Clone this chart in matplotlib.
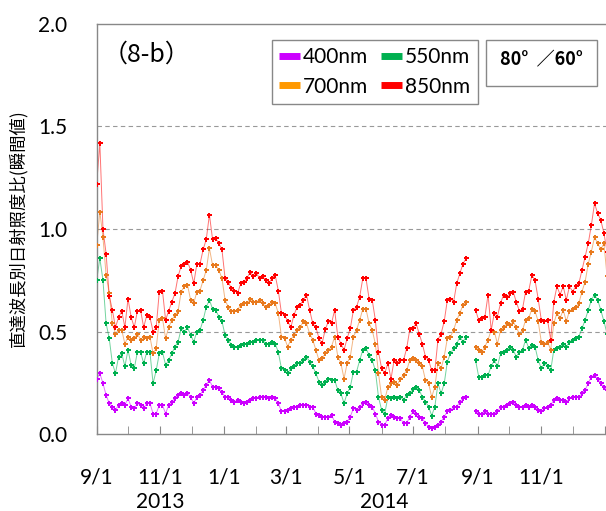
import numpy as np
import pandas as pd
import matplotlib
matplotlib.use('Agg')
import matplotlib.pyplot as plt
import matplotlib.dates as mdates
from matplotlib.lines import Line2D
from matplotlib.patches import Rectangle
from matplotlib.ticker import FuncFormatter
from matplotlib.transforms import blended_transform_factory

nan = np.nan

# samples every 3 days from 2013-09-01 (gap in late Aug 2014)
start = '2013-09-01'
w850 = [1.22, 1.42, 1.00, 0.88, 0.675, 0.605, 0.52, 0.57, 0.60, 0.52, 0.66, 0.57, 0.52, 0.60, 0.605, 0.52, 0.58, 0.57, 0.50, 0.52, 0.695, 0.70, 0.556, 0.60, 0.645, 0.686, 0.77, 0.82,
        0.83, 0.84, 0.80, 0.735, 0.83, 0.83, 0.90, 0.95, 1.07, 0.95, 0.955, 0.93, 0.90, 0.76, 0.743, 0.71, 0.70, 0.686, 0.735, 0.743, 0.76, 0.79, 0.77, 0.784, 0.76, 0.77, 0.75,
        0.735, 0.76, 0.775, 0.70, 0.59, 0.58, 0.55, 0.52, 0.58, 0.62, 0.63, 0.654, 0.68, 0.605, 0.54, 0.52, 0.467, 0.443, 0.51, 0.55, 0.54, 0.605, 0.475, 0.44, 0.41, 0.467, 0.515, 0.605,
        0.62, 0.67, 0.76, 0.76, 0.66, 0.654, 0.556, 0.40, 0.32, 0.296, 0.345, 0.27, 0.36, 0.345, 0.36, 0.36, 0.418, 0.51, 0.515, 0.54, 0.49, 0.44, 0.378, 0.36, 0.31, 0.31, 0.46,
        0.49, 0.55, 0.654, 0.66, 0.645, 0.735, 0.784, 0.83, 0.857, nan, nan, 0.605, 0.556, 0.565, 0.573, 0.68, 0.507, 0.59, 0.573, 0.64, 0.68, 0.67, 0.686, 0.695, 0.645, 0.60, 0.61, 0.695,
        0.70, 0.775, 0.75, 0.66, 0.556, 0.55, 0.556, 0.46, 0.645, 0.72, 0.68, 0.72, 0.654, 0.72, 0.695, 0.72, 0.735, 0.80, 0.865, 0.93, 1.02, 1.125, 1.076, 1.044, 0.98, 0.89]
w700 = [0.92, 1.085, 0.96, 0.776, 0.686, 0.54, 0.49, 0.507, 0.507, 0.44, 0.475, 0.46, 0.467, 0.49, 0.46, 0.475, 0.467, 0.475, 0.393, 0.418, 0.556, 0.565, 0.467, 0.52, 0.556, 0.58, 0.60, 0.695,
        0.72, 0.727, 0.654, 0.638, 0.695, 0.70, 0.75, 0.80, 0.906, 0.824, 0.824, 0.80, 0.76, 0.654, 0.62, 0.60, 0.60, 0.605, 0.63, 0.638, 0.638, 0.66, 0.645, 0.645, 0.654, 0.638, 0.62,
        0.63, 0.645, 0.638, 0.59, 0.475, 0.467, 0.426, 0.46, 0.483, 0.507, 0.52, 0.55, 0.54, 0.49, 0.46, 0.41, 0.36, 0.37, 0.393, 0.41, 0.426, 0.475, 0.378, 0.345, 0.27, 0.345, 0.378, 0.475,
        0.507, 0.556, 0.61, 0.61, 0.54, 0.507, 0.44, 0.296, 0.18, 0.166, 0.23, 0.247, 0.255, 0.24, 0.27, 0.288, 0.31, 0.36, 0.37, 0.36, 0.345, 0.33, 0.263, 0.247, 0.18, 0.23, 0.345,
        0.32, 0.378, 0.467, 0.475, 0.507, 0.556, 0.59, 0.63, 0.645, nan, nan, 0.426, 0.41, 0.40, 0.426, 0.46, 0.507, 0.50, 0.44, 0.507, 0.52, 0.54, 0.53, 0.55, 0.52, 0.49, 0.507, 0.556,
        0.565, 0.61, 0.60, 0.55, 0.45, 0.44, 0.45, 0.41, 0.54, 0.59, 0.565, 0.605, 0.55, 0.60, 0.61, 0.62, 0.638, 0.695, 0.743, 0.83, 0.89, 0.96, 0.93, 0.90, 0.93, 0.77]
w550 = [0.75, 0.857, 0.75, 0.54, 0.467, 0.345, 0.296, 0.378, 0.393, 0.33, 0.41, 0.337, 0.32, 0.40, 0.40, 0.345, 0.40, 0.40, 0.247, 0.31, 0.393, 0.40, 0.337, 0.36, 0.393, 0.426, 0.45, 0.515,
        0.50, 0.52, 0.483, 0.45, 0.50, 0.507, 0.556, 0.62, 0.654, 0.61, 0.605, 0.573, 0.55, 0.483, 0.46, 0.435, 0.426, 0.426, 0.435, 0.44, 0.44, 0.45, 0.45, 0.46, 0.46, 0.46, 0.44,
        0.44, 0.45, 0.44, 0.40, 0.32, 0.31, 0.296, 0.32, 0.33, 0.345, 0.345, 0.36, 0.378, 0.353, 0.33, 0.296, 0.255, 0.24, 0.255, 0.27, 0.263, 0.263, 0.215, 0.198, 0.15, 0.198, 0.23, 0.304,
        0.304, 0.36, 0.41, 0.418, 0.385, 0.36, 0.31, 0.18, 0.117, 0.10, 0.18, 0.174, 0.18, 0.174, 0.18, 0.166, 0.19, 0.198, 0.22, 0.23, 0.215, 0.18, 0.158, 0.133, 0.09, 0.133, 0.247,
        0.198, 0.247, 0.353, 0.393, 0.418, 0.44, 0.475, 0.45, 0.475, nan, nan, 0.36, 0.28, 0.28, 0.288, 0.288, 0.33, 0.36, 0.33, 0.393, 0.40, 0.41, 0.426, 0.41, 0.378, 0.40, 0.41, 0.46,
        0.418, 0.435, 0.426, 0.36, 0.32, 0.345, 0.33, 0.31, 0.41, 0.418, 0.426, 0.44, 0.426, 0.45, 0.46, 0.467, 0.475, 0.515, 0.556, 0.605, 0.654, 0.68, 0.654, 0.605, 0.55, 0.49]
w400 = [0.27, 0.296, 0.247, 0.19, 0.15, 0.133, 0.117, 0.141, 0.15, 0.141, 0.174, 0.133, 0.125, 0.15, 0.141, 0.125, 0.15, 0.15, 0.10, 0.10, 0.141, 0.141, 0.10, 0.141, 0.158, 0.174, 0.19, 0.198,
        0.19, 0.198, 0.18, 0.15, 0.18, 0.19, 0.215, 0.24, 0.263, 0.23, 0.23, 0.223, 0.207, 0.18, 0.18, 0.166, 0.158, 0.166, 0.158, 0.15, 0.158, 0.166, 0.174, 0.174, 0.18, 0.18, 0.18,
        0.174, 0.18, 0.174, 0.15, 0.11, 0.11, 0.117, 0.125, 0.133, 0.133, 0.141, 0.141, 0.141, 0.133, 0.133, 0.10, 0.093, 0.085, 0.085, 0.085, 0.093, 0.06, 0.052, 0.044, 0.052, 0.06, 0.085, 0.125,
        0.117, 0.133, 0.15, 0.158, 0.141, 0.133, 0.10, 0.06, 0.044, 0.044, 0.077, 0.093, 0.085, 0.077, 0.077, 0.052, 0.052, 0.085, 0.11, 0.10, 0.085, 0.077, 0.052, 0.036, 0.028, 0.036, 0.044,
        0.06, 0.085, 0.11, 0.117, 0.133, 0.133, 0.158, 0.174, 0.18, nan, nan, 0.11, 0.10, 0.10, 0.11, 0.10, 0.10, 0.10, 0.11, 0.133, 0.133, 0.141, 0.15, 0.158, 0.141, 0.133, 0.133, 0.141,
        0.133, 0.141, 0.133, 0.117, 0.11, 0.125, 0.133, 0.141, 0.166, 0.174, 0.166, 0.166, 0.158, 0.174, 0.18, 0.18, 0.18, 0.198, 0.215, 0.247, 0.28, 0.288, 0.27, 0.247, 0.23, 0.215]

labels = ['400nm', '550nm', '700nm', '850nm']
mark_cols = ['#CC00FF', '#00B050', '#E87A1E', '#FF0000']
leg_cols = ['#CC00FF', '#00B050', '#FF9900', '#FF0000']
yticks = [0.0, 0.5, 1.0, 1.5, 2.0]
years = ['2013', '2014']
year_pos = ['2013-11-01', '2014-06-04']

plt.rcParams['font.family'] = ['Lato', 'Noto Sans CJK JP', 'DejaVu Sans']

dates = pd.date_range(start, periods=len(w850), freq='3D')
series = [w400, w550, w700, w850]

W, H = 606, 511
fig = plt.figure(figsize=(W/100, H/100), dpi=100)
ax = fig.add_axes([96.7/W, 77/H, (W-96.7)/W, 410/H])

for vals, c in zip(series, mark_cols):
    ax.plot(dates, vals, color=c, lw=0.7, alpha=0.55, zorder=2)
    ax.plot(dates, vals, ls='none', marker='P', ms=3.6, mew=0, color=c, zorder=3)

xmax = pd.Timestamp('2015-01-02')
ax.set_ylim(0, 2.0)
ax.set_xlim(pd.Timestamp('2013-09-01'), xmax)
ax.set_yticks(yticks)
ax.set_yticklabels(['%.1f' % v for v in yticks])
ax.tick_params(axis='y', length=0, pad=21, labelsize=15)
for v in [0.5, 1.0, 1.5]:
    ax.axhline(v, color='#999999', lw=0.8, ls=(0, (4, 3)), zorder=1)

def month_day(x, pos):
    d = mdates.num2date(x)
    if d.year >= 2015:
        return ''
    return '%d/%d' % (d.month, d.day)

ax.xaxis.set_major_locator(mdates.MonthLocator(bymonth=[1, 3, 5, 7, 9, 11]))
ax.xaxis.set_minor_locator(mdates.MonthLocator())
ax.xaxis.set_major_formatter(FuncFormatter(month_day))
ax.tick_params(axis='x', which='both', direction='in', length=6, color='#888888',
               pad=24, labelsize=15)

for s in ['left', 'bottom', 'top']:
    ax.spines[s].set_color('#888888')
    ax.spines[s].set_linewidth(1.0)
ax.spines['right'].set_visible(False)

tr = blended_transform_factory(ax.transData, fig.transFigure)
for yr, p in zip(years, year_pos):
    ax.text(pd.Timestamp(p), 1-492/H, yr, transform=tr, ha='center', va='top', fontsize=15)

fig.text(18/W, 1-228/H, '直達波長別日射照度比(瞬間値)', rotation=90, ha='center', va='center',
         fontsize=12.5, family=['Noto Sans CJK JP', 'DejaVu Sans'])

fig.text(103/W, 1-55/H, '（8-b）', ha='left', va='center', fontsize=18,
         family=['Noto Sans CJK JP', 'DejaVu Sans'])

handles = [Line2D([], [], color=c, lw=5, solid_capstyle='butt') for c in leg_cols]
leg = ax.legend([handles[0], handles[2], handles[1], handles[3]],
                [labels[0], labels[2], labels[1], labels[3]],
                ncol=2, loc='upper left', bbox_to_anchor=(272/W, 1-40/H),
                bbox_transform=fig.transFigure, borderaxespad=0, fontsize=15,
                handlelength=1.0, handletextpad=0.15, columnspacing=0.6,
                labelspacing=0.45, borderpad=0.35, fancybox=False, framealpha=1)
leg.get_frame().set_edgecolor('#888888')
leg.get_frame().set_linewidth(1.0)

fig.patches.append(Rectangle((486/W, 1-86/H), 111/W, 46/H, transform=fig.transFigure,
                             fill=False, edgecolor='#888888', lw=1.0))
fig.text(541/W, 1-60/H, '80°  ／60°', ha='center', va='center', fontsize=13, fontweight='bold',
         family=['Noto Sans CJK JP', 'DejaVu Sans'])

fig.savefig('out.png', dpi=100)
